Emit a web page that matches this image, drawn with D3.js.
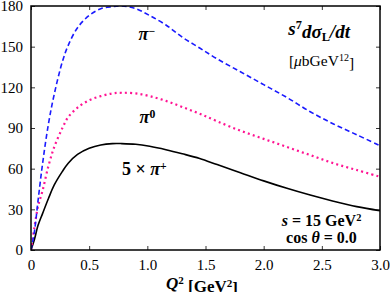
<!DOCTYPE html>
<html>
<head>
<meta charset="utf-8">
<script src="https://cdn.jsdelivr.net/npm/d3@7"></script>
<style>
  body { margin: 0; background: #fff; }
  text { font-family: "Liberation Serif", "DejaVu Serif", serif; }
  .tick-label { font-size: 15px; }
</style>
</head>
<body>
<div class="chart"></div>
<script>
// Q^2 grid in GeV^2
var q2 = [0, 0.03, 0.06, 0.1, 0.15, 0.2, 0.27, 0.32, 0.4, 0.5, 0.6, 0.7, 0.78, 0.9, 1.02, 1.16, 1.3, 1.45, 1.6, 1.8, 2.0, 2.2, 2.4, 2.6, 2.8, 3.0];

// s^7 dsigma_L/dt values
var piMinus = [0, 14, 36, 64, 93, 115, 139, 151, 164, 173, 178, 179.5, 180, 178, 173, 166, 157, 149, 141, 131.5, 122, 112.5, 102, 93, 85, 77];
var piZero = [0, 17, 32, 44, 62, 76, 90, 98, 105, 110.5, 113.5, 115.5, 116, 115.5, 113.5, 110, 105.5, 100.5, 95, 88, 82, 76, 70, 64, 59, 54];
var piPlus5 = [0, 8, 18, 27, 38, 48, 58, 64, 70.5, 75, 77.5, 78.5, 78.5, 78, 76.5, 74, 71, 67.5, 63, 57, 51, 45.5, 40.5, 36, 32, 29];

var xTicks = [0, 0.5, 1.0, 1.5, 2.0, 2.5, 3.0];
var yTicks = [0, 30, 60, 90, 120, 150, 180];

var svgWidth = 390;
var svgHeight = 292;
var margin = { top: 6, right: 10, bottom: 42, left: 31 };
var width = svgWidth - margin.left - margin.right;
var height = svgHeight - margin.top - margin.bottom;

var svg = d3.select(".chart")
  .append("svg")
  .attr("width", svgWidth)
  .attr("height", svgHeight);

var chartGroup = svg.append("g")
  .attr("transform", `translate(${margin.left}, ${margin.top})`);

var x = d3.scaleLinear().domain([0, 3]).range([0, width]);
var y = d3.scaleLinear().domain([0, 180]).range([height, 0]);

// axes with inward ticks
chartGroup.append("g")
  .attr("transform", `translate(0, ${height})`)
  .call(d3.axisBottom(x).tickValues(xTicks).tickSizeInner(-4).tickSizeOuter(0).tickPadding(9).tickFormat(d => d === 0 ? "0" : d3.format(".1f")(d)))
  .call(g => g.select(".domain").remove())
  .call(g => g.selectAll("text").attr("class", "tick-label").attr("font-family", null).attr("font-size", null));

chartGroup.append("g")
  .call(d3.axisTop(x).tickValues(xTicks).tickSizeInner(-4).tickSizeOuter(0).tickFormat(""))
  .call(g => g.select(".domain").remove());

chartGroup.append("g")
  .call(d3.axisLeft(y).tickValues(yTicks).tickSizeInner(-4).tickSizeOuter(0).tickPadding(8))
  .call(g => g.select(".domain").remove())
  .call(g => g.selectAll("text").attr("class", "tick-label").attr("font-family", null).attr("font-size", null));

chartGroup.append("g")
  .attr("transform", `translate(${width}, 0)`)
  .call(d3.axisRight(y).tickValues(yTicks).tickSizeInner(-4).tickSizeOuter(0).tickFormat(""))
  .call(g => g.select(".domain").remove());

chartGroup.selectAll(".tick line").attr("stroke", "#000").attr("stroke-width", 0.8);

var line = d3.line()
  .x(d => x(d[0]))
  .y(d => y(d[1]))
  .curve(d3.curveCatmullRom.alpha(0.5));

var series = [
  { vals: piPlus5, color: "#000000", dash: null, w: 1.6 },
  { vals: piZero, color: "#ff1493", dash: "2,3.2", w: 2.2 },
  { vals: piMinus, color: "#1a1aff", dash: "5,3", w: 1.6 }
];

chartGroup.append("defs").append("clipPath").attr("id", "clip")
  .append("rect").attr("width", width).attr("height", height);

var curves = chartGroup.append("g").attr("clip-path", "url(#clip)");
series.forEach(function (s) {
  curves.append("path")
    .datum(q2.map((q, i) => [q, s.vals[i]]))
    .attr("d", line)
    .attr("fill", "none")
    .attr("stroke", s.color)
    .attr("stroke-width", s.w)
    .attr("stroke-dasharray", s.dash);
});

// frame
chartGroup.append("rect")
  .attr("width", width)
  .attr("height", height)
  .attr("fill", "none")
  .attr("stroke", "#000")
  .attr("stroke-width", 1.5);

// label fitted into x0..x1 (svg pixels), baseline yp, font no bigger than maxFs
function label(txt, x0, x1, yp, bold, maxFs) {
  var t = svg.append("text")
    .attr("x", x0).attr("y", yp)
    .attr("font-size", 16)
    .attr("font-weight", bold ? "bold" : null)
    .html(txt);
  var w = t.node().getBBox().width;
  var fs = Math.min(maxFs, 16 * (x1 - x0) / w);
  t.attr("font-size", fs);
  var w2 = t.node().getBBox().width;
  t.attr("x", x0 + (x1 - x0 - w2) / 2);
  return t;
}
var sup = '<tspan font-size="65%" dy="-0.45em">';
var endSup = '</tspan><tspan dy="0.45em">';

label('<tspan font-style="italic">Q</tspan>' + sup + '2' + endSup + ' [GeV</tspan>' + sup + '2' + endSup + ']</tspan>', 161, 243, 289, true, 17);

label('<tspan font-style="italic">π</tspan>' + sup + '−</tspan>', 136, 158, 40, true, 18);
label('<tspan font-style="italic">π</tspan>' + sup + '0</tspan>', 138, 157, 123, true, 18);
label('5 × <tspan font-style="italic">π</tspan>' + sup + '+</tspan>', 116, 173, 175, true, 18);

label('<tspan font-style="italic">s</tspan>' + sup + '7' + endSup + '<tspan font-style="italic">dσ</tspan></tspan><tspan font-size="65%" dy="0.25em">L</tspan><tspan dy="-0.16em" font-style="italic">/dt</tspan>', 280, 360, 35, true, 19);
label('[<tspan font-style="italic">μ</tspan>bGeV' + sup + '12' + endSup + ']</tspan>', 285, 358, 66, false, 15.5);

label('<tspan font-style="italic">s</tspan> = 15 GeV' + sup + '2</tspan>', 277, 367, 226, true, 16);
label('cos <tspan font-style="italic">θ</tspan> = 0.0', 283, 360, 243, true, 16);
</script>
</body>
</html>
